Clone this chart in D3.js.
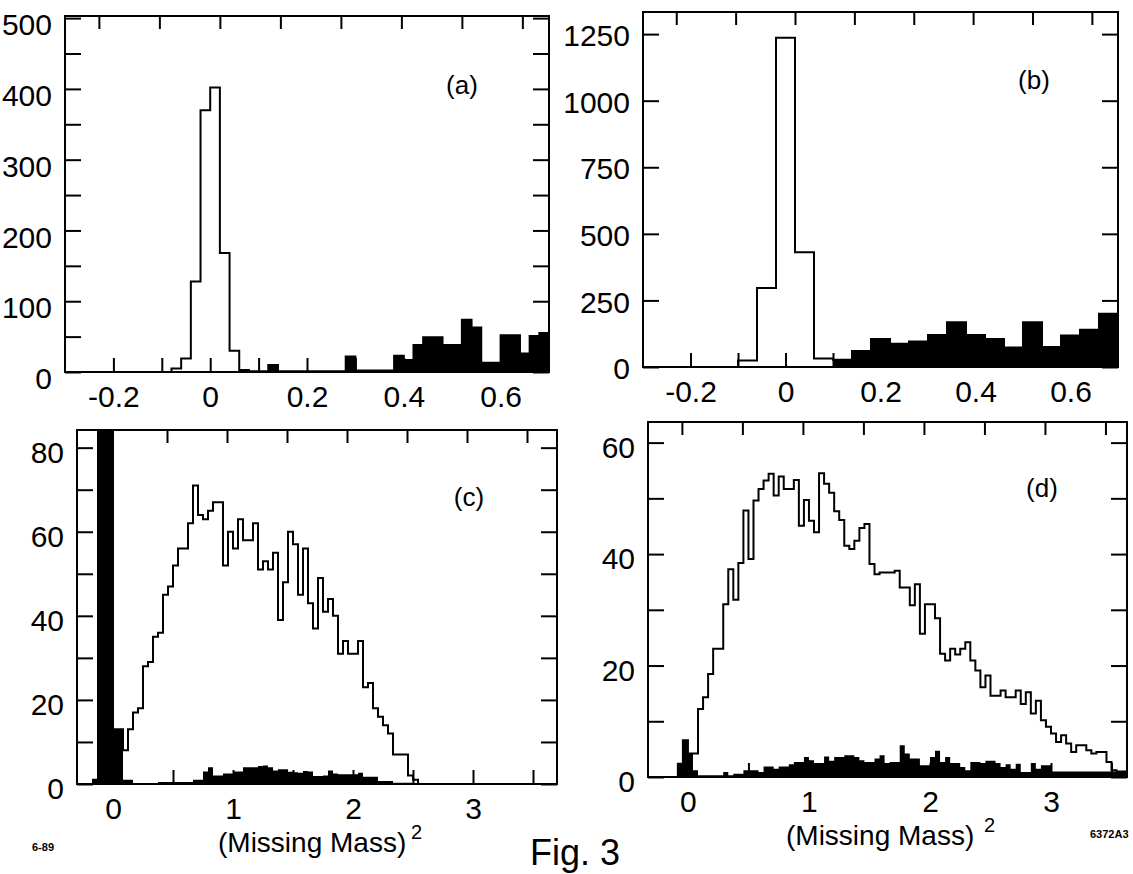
<!DOCTYPE html>
<meta charset="utf-8">
<script src="https://d3js.org/d3.v7.min.js"></script>
<style>
  body { margin: 0; background: #fff; }
  text { font-family: "Liberation Sans", Arial, Helvetica, sans-serif; fill: #000; }
</style>
<div id="chart"></div>
<script>

// (a) bins of 0.02 starting at -0.3
var openA = [0,0,0,0,0,0,0,0,0,0, 0,5,19,128,370,402,168,30,3,1,
             0,0,0,0,0,0,0,0,0,0, 0,0,0,0,0,0,0,0,0,0, 0,0,0,0,0,0,0,0,0,0];
var fillA = [0,0,0,0,0,0,0,0,0,0, 0,0,0,0,0,0,0,0,0,1,
             1,10,1,1,1,1,1,1,1,22, 2,2,2,2,23,17,38,49,49,38, 38,74,63,13,13,52,52,26,51,55];

// (b) bins of 0.04 starting at -0.3
var openB = [0,0,0,0,0,24,297,1236,431,32, 0,0,0,0,0,0,0,0,0,0, 0,0,0,0,0];
var fillB = [0,0,0,0,0,0,0,0,0,0, 27,60,105,87,96,120,168,120,105,73, 168,75,118,140,200];

// (c) bins of 1/24 starting at -4/24
var openC = [1,100,100,100,13,13,8,13,17,18, 28,29,35,36,45,47,52,56,56,62,
             71,64,63,65,67,67,52,60,56,63, 58,58,62,51,53,51,55,39,48,60,
             57,45,56,43,37,49,41,44,40,31, 34,31,31,34,23,24,18,16,14,12,
             7,7,7,2,1,0];
var fillC = [1,100,100,100,13,13,1,1, 0,0,0,0,0, 0.5,0.5,0.5,0.5,0.5,0.5,0.5,
             1,1,3,4,2,2,2.5,2.5,3,3, 4,4,4,4.3,4.4,4,3.2,3.5,3.5,2.9,
             2.8,2.7,3.1,3,1.9,1.9,2,3.2,2.5,2.3, 2.3,2.3,2.3,2.7,1.7,1.7,1.7,0.7,0.7,0.7,
             0.3,0.3,0.3,0.3,0,0];

// (d) bins of 1/24 starting at -2/24
var openD = [2.4,6.6, 4,4.2,12.2,14.3,18.5,23,23,31,37.3,31.8,
             38.4,47.8,39.1,49.6,51.7,53.2,54.4,50.5,53.9,51.7,
             51.7,53.3,45.1,49.7,46,43.9,54.5,52.6,51,47.7,
             46.1,41.5,40.9,42.4,44.7,45.4,38.2,36.4,36.7,36.7,
             36.7,37,34,34,30.8,34.6,25.7,31,31,28.5,
             22.1,20.9,23,22,23,24.2,20.9,19.1,16.1,18.2,
             14.6,14.6,15.5,14.3,14.3,15.5,13.1,15.2,11.4,13.7,
             10.2,9,7.8,6.3,7.5,6,4.5,5.7,5.7,4.8,
             4.2,4.5,4.5,2.7,1.2,0.6,0.6];
var fillD = [2.4,6.6, 4.2,1.2,0.3,0.3,0.3,0.3,0.3,0.9,0.3,0.6,
             0.6,1.2,1.2,1.2,0.9,1.9,1.9,1.5,1.9,1.9,
             2.3,2.7,2.7,3.6,3,2.5,2.5,3.7,2.9,3.6,
             3.6,3.9,3.9,3.6,3,2.7,2.7,3.3,3.9,2.5,
             2.7,2.7,5.7,4.2,3.3,3.3,2.1,2.1,3.6,4.7,
             2.7,3.6,2.5,2.5,1.8,1.2,2.7,2.7,2.5,2.9,
             2.9,2.5,1.8,2.3,1.5,2.4,0.9,0.9,2.5,1.5,
             2.1,2.1,1,1,1,1,1,1,1,1,
             1,1,1,1,1,1,1];

// ticks and labels
var abXTicks = [-0.2,-0.1,0,0.1,0.2,0.3,0.4,0.5,0.6];
var abXLabels = [-0.2,0,0.2,0.4,0.6];
var abTopTicks = [-0.23,-0.105,0.02,0.145,0.27,0.395,0.52,0.645];
var cdXTicks = [0,0.5,1,1.5,2,2.5,3,3.5];
var cdXLabels = [0,1,2,3];
var cdTopTicks = [-0.05,0.45,0.95,1.45,1.95,2.45,2.95,3.45];
var aYTicks = [0,50,100,150,200,250,300,350,400,450,500];
var aYLabels = [0,100,200,300,400,500];
var bYTicks = [0,250,500,750,1000,1250];
var cYTicks = [0,10,20,30,40,50,60,70,80];
var cYLabels = [0,20,40,60,80];
var dYTicks = [0,10,20,30,40,50,60];
var dYLabels = [0,20,40,60];

var panels = [
  {tag:"(a)", left:65, right:549, top:16, bottom:372, xDom:[-0.3,0.7], yDom:[0,503],
   start:-0.3, w:0.02, open:openA, fill:fillA, xTicks:abXTicks, xLabels:abXLabels, topTicks:abTopTicks,
   yTicks:aYTicks, yLabels:aYLabels, labelDy:7, tagX:462, tagY:85},
  {tag:"(b)", left:643, right:1118, top:12, bottom:367, xDom:[-0.3,0.7], yDom:[0,1333],
   start:-0.3, w:0.04, open:openB, fill:fillB, xTicks:abXTicks, xLabels:abXLabels, topTicks:abTopTicks,
   yTicks:bYTicks, yLabels:bYTicks, labelDy:2, tagX:1034, tagY:80},
  {tag:"(c)", left:77, right:557, top:430, bottom:784, xDom:[-0.3,3.7], yDom:[0,84.2],
   start:-4/24, w:1/24, open:openC, fill:fillC, xTicks:cdXTicks, xLabels:cdXLabels, topTicks:cdTopTicks,
   yTicks:cYTicks, yLabels:cYLabels, labelDy:5, tagX:469, tagY:497},
  {tag:"(d)", left:648, right:1127, top:422, bottom:777, xDom:[-0.33,3.628], yDom:[0,63.7],
   start:-2/24, w:1/24, open:openD, fill:fillD, xTicks:cdXTicks, xLabels:cdXLabels, topTicks:cdTopTicks,
   yTicks:dYTicks, yLabels:dYLabels, labelDy:5, tagX:1042, tagY:488}
];

var svg = d3.select("#chart").append("svg")
    .attr("width", 1133)
    .attr("height", 874);

function styleAxis(g) {
  g.select(".domain").remove();
  g.attr("font-family", null).attr("font-size", null);
  g.selectAll("line").attr("stroke", "#000").attr("stroke-width", 2);
  g.selectAll("text").style("font-size", "30px");
}

// step points for a histogram: [[edge, value], ...]
function steps(bins, key) {
  var pts = [[bins[0].x0, 0]];
  bins.forEach(function(d) {
    pts.push([d.x0, d[key]]);
    pts.push([d.x1, d[key]]);
  });
  pts.push([bins[bins.length - 1].x1, 0]);
  return pts;
}

panels.forEach(function(p, pi) {
  var x = d3.scaleLinear().domain(p.xDom).range([p.left, p.right]);
  var y = d3.scaleLinear().domain(p.yDom).range([p.bottom, p.top]);

  var bins = p.open.map(function(v, i) {
    var x0 = p.start + i * p.w;
    return {x0: x0, x1: x0 + p.w, open: Math.max(v, p.fill[i]), fill: p.fill[i]};
  });

  svg.append("clipPath").attr("id", "clip" + pi)
    .append("rect")
      .attr("x", p.left).attr("y", p.top)
      .attr("width", p.right - p.left).attr("height", p.bottom - p.top);

  var g = svg.append("g");
  var plot = g.append("g").attr("clip-path", "url(#clip" + pi + ")");

  // shaded histogram
  plot.append("path")
    .datum(steps(bins, "fill"))
    .attr("fill", "#000")
    .attr("d", d3.area()
      .x(function(d) { return x(d[0]); })
      .y0(y(0))
      .y1(function(d) { return y(d[1]); }));

  // open histogram outline
  plot.append("path")
    .datum(steps(bins, "open"))
    .attr("fill", "none")
    .attr("stroke", "#000")
    .attr("stroke-width", 2)
    .attr("d", d3.line()
      .x(function(d) { return x(d[0]); })
      .y(function(d) { return y(d[1]); }));

  // frame
  g.append("rect")
    .attr("x", p.left).attr("y", p.top)
    .attr("width", p.right - p.left).attr("height", p.bottom - p.top)
    .attr("fill", "none").attr("stroke", "#000").attr("stroke-width", 2);

  // axes
  g.append("g")
    .attr("transform", "translate(" + p.left + ",0)")
    .call(d3.axisLeft(y).tickValues(p.yTicks).tickSize(-16).tickPadding(13)
      .tickFormat(function(d) { return p.yLabels.indexOf(d) >= 0 ? String(d) : ""; }))
    .call(styleAxis)
    .selectAll("text").attr("transform", "translate(0," + p.labelDy + ")");

  g.append("g")
    .attr("transform", "translate(" + p.right + ",0)")
    .call(d3.axisRight(y).tickValues(p.yTicks).tickSize(-16).tickFormat(""))
    .call(styleAxis);

  g.append("g")
    .attr("transform", "translate(0," + p.bottom + ")")
    .call(d3.axisBottom(x).tickValues(p.xTicks).tickSize(-14).tickPadding(14)
      .tickFormat(function(d) { return p.xLabels.indexOf(d) >= 0 ? String(d) : ""; }))
    .call(styleAxis);

  g.append("g")
    .attr("transform", "translate(0," + p.top + ")")
    .call(d3.axisTop(x).tickValues(p.topTicks).tickSize(-13).tickFormat(""))
    .call(styleAxis);

  g.append("text")
    .attr("x", p.tagX).attr("y", p.tagY + 9)
    .attr("text-anchor", "middle")
    .style("font-size", "26px")
    .text(p.tag);
});

// axis titles and page marks
svg.append("text").attr("x", 218).attr("y", 852).style("font-size", "28px").text("(Missing Mass)");
svg.append("text").attr("x", 411).attr("y", 839).style("font-size", "20px").text("2");
svg.append("text").attr("x", 786).attr("y", 845).style("font-size", "28px").text("(Missing Mass)");
svg.append("text").attr("x", 984).attr("y", 832).style("font-size", "20px").text("2");

svg.append("text").attr("x", 32).attr("y", 851).style("font-size", "11px").style("font-weight", "bold").text("6-89");
svg.append("text").attr("x", 1090).attr("y", 838).style("font-size", "11px").style("font-weight", "bold").text("6372A3");
svg.append("text").attr("x", 530).attr("y", 865).style("font-size", "36px").text("Fig. 3");

</script>
